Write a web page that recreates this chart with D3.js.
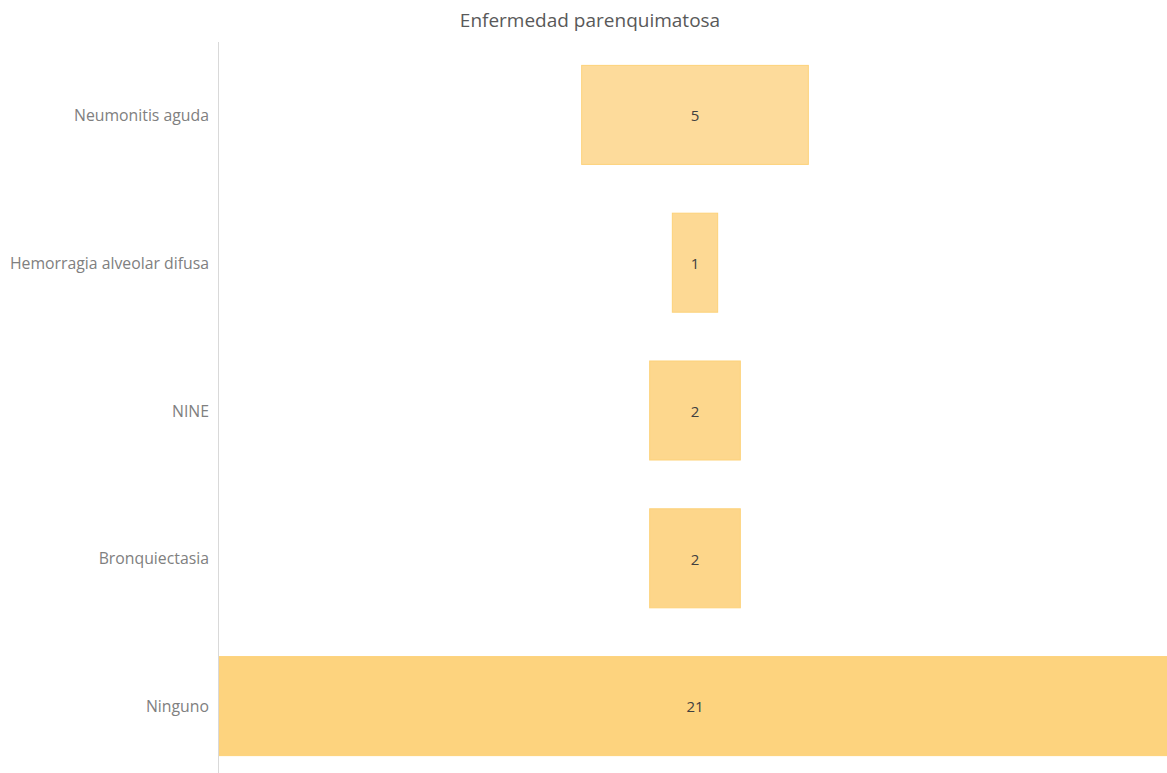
<!DOCTYPE html>
<html>
<head>
<meta charset="utf-8">
<script src="https://cdn.jsdelivr.net/npm/d3@7"></script>
<style>
  body { margin: 0; background: #fff; }
  svg { display: block; font-family: "Segoe UI", "Open Sans", "Noto Sans", sans-serif; }
</style>
</head>
<body>
<div id="chart-area"></div>
<script>
var categories = ["Neumonitis aguda", "Hemorragia alveolar difusa", "NINE", "Bronquiectasia", "Ninguno"];
var values = [5, 1, 2, 2, 21];
var fills = ["#fddb9b", "#fdd994", "#fdd78d", "#fdd68a", "#fdd37e"];

var width = 1167;
var height = 773;
var left = 219;
var right = 1171;

var svg = d3.select("#chart-area")
    .append("svg")
    .attr("width", width)
    .attr("height", height);

svg.append("defs").append("clipPath")
    .attr("id", "plot")
    .append("rect")
    .attr("x", left)
    .attr("y", 0)
    .attr("width", width - left)
    .attr("height", height);

var maxV = d3.max(values);
var x = d3.scaleLinear()
    .domain([-maxV / 2, maxV / 2])
    .range([left, right]);

var y = d3.scaleBand()
    .domain(categories)
    .range([41, 780])
    .paddingInner(0.33)
    .paddingOuter(0.165);

var data = categories.map(function(c, i) {
    return { name: c, value: values[i], fill: fills[i] };
});

// title
svg.append("text")
    .attr("x", 590)
    .attr("y", 27)
    .attr("text-anchor", "middle")
    .attr("font-size", "19px")
    .attr("fill", "#595959")
    .text("Enfermedad parenquimatosa");

// bars
var g = svg.append("g").attr("clip-path", "url(#plot)");

g.selectAll("rect.bar")
    .data(data)
    .enter()
    .append("rect")
    .attr("class", "bar")
    .attr("x", function(d) { return x(-d.value / 2); })
    .attr("y", function(d) { return y(d.name); })
    .attr("width", function(d) { return x(d.value / 2) - x(-d.value / 2); })
    .attr("height", y.bandwidth())
    .attr("fill", function(d) { return d.fill; })
    .attr("stroke", "#fdd27a")
    .attr("stroke-width", 1);

g.selectAll("text.val")
    .data(data)
    .enter()
    .append("text")
    .attr("class", "val")
    .attr("x", x(0))
    .attr("y", function(d) { return y(d.name) + y.bandwidth() / 2 + 1; })
    .attr("dy", "0.35em")
    .attr("text-anchor", "middle")
    .attr("font-size", "15px")
    .attr("fill", "#404040")
    .text(function(d) { return d.value; });

// category axis
var yAxis = svg.append("g")
    .attr("transform", "translate(" + left + ",1)")
    .call(d3.axisLeft(y).tickSize(0).tickPadding(10));

yAxis.select(".domain").remove();
yAxis.selectAll("text")
    .attr("font-size", "15.8px")
    .attr("font-family", "\"Segoe UI\", \"Open Sans\", \"Noto Sans\", sans-serif")
    .attr("fill", "#808080");

svg.append("line")
    .attr("x1", left - 0.5)
    .attr("x2", left - 0.5)
    .attr("y1", 42)
    .attr("y2", height)
    .attr("stroke", "#d9d9d9")
    .attr("stroke-width", 1);
</script>
</body>
</html>
